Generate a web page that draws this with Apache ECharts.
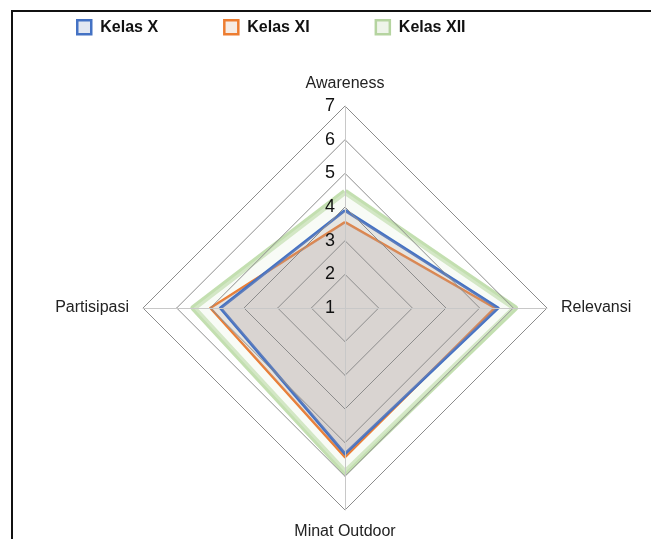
<!DOCTYPE html>
<html>
<head>
<meta charset="utf-8">
<script src="https://cdn.jsdelivr.net/npm/echarts@6/dist/echarts.min.js"></script>
<style>
  html, body { margin: 0; padding: 0; background: #fff; }
  #frame {
    position: absolute; left: 11px; top: 10px; right: -10px; bottom: -10px;
    border-top: 2px solid #111; border-left: 2px solid #111;
  }
  #chart { position: absolute; left: 0; top: 0; width: 651px; height: 539px; }
</style>
</head>
<body>
<div id="frame"></div>
<div id="chart"></div>
<script>
// indicators go counter-clockwise from the top
const indicators = ['Awareness', 'Partisipasi', 'Minat Outdoor', 'Relevansi'];
const seriesNames = ['Kelas X', 'Kelas XI', 'Kelas XII'];
const kelasX = [3.9, 4.7, 5.33, 5.55];
const kelasXI = [3.55, 5.0, 5.43, 5.45];
const kelasXII = [4.45, 5.5, 5.88, 6.05];
const axisMin = 1;
const axisMax = 7;

const chart = echarts.init(document.getElementById('chart'));

const option = {
  animation: false,
  textStyle: { fontFamily: 'Liberation Sans, Arial, sans-serif' },
  legend: {
    top: 14,
    left: 71,
    itemWidth: 14,
    itemHeight: 14,
    itemGap: 65,
    textStyle: { fontSize: 16, fontWeight: 'bold', color: '#111', padding: [0, 0, 0, 4] },
    data: [
      { name: 'Kelas X', icon: 'rect', itemStyle: { color: '#e3e8f2', borderColor: '#4472C4', borderWidth: 2.5 } },
      { name: 'Kelas XI', icon: 'rect', itemStyle: { color: '#f6ece5', borderColor: '#ED7D31', borderWidth: 2.5 } },
      { name: 'Kelas XII', icon: 'rect', itemStyle: { color: '#eef4ea', borderColor: '#b5d4a0', borderWidth: 2.5 } }
    ]
  },
  radar: {
    z: 10,
    center: [345, 308],
    radius: 202,
    startAngle: 90,
    shape: 'polygon',
    splitNumber: 6,
    nameGap: 14,
    axisName: { color: '#222', fontSize: 16 },
    axisLine: { lineStyle: { color: '#c8c8c8', width: 1 } },
    axisTick: { show: false },
    axisLabel: { show: false },
    splitLine: { lineStyle: { color: '#8c8c8c', width: 1 } },
    splitArea: { show: false },
    indicator: indicators.map((name, i) => ({
      name: name,
      min: axisMin,
      max: axisMax,
      axisLabel: i === 0
        ? { show: true, color: '#111', fontSize: 18, margin: 10, showMinLabel: true, showMaxLabel: true }
        : { show: false }
    }))
  },
  series: [
    {
      name: 'Kelas XII',
      type: 'radar',
      z: 2,
      symbol: 'none',
      lineStyle: { color: 'rgba(169,209,142,0.7)', width: 6 },
      itemStyle: { color: '#A9D18E' },
      areaStyle: { color: 'rgba(238,245,232,0.55)' },
      data: [{ name: 'Kelas XII', value: kelasXII }]
    },
    {
      name: 'Kelas XI',
      type: 'radar',
      z: 3,
      symbol: 'none',
      lineStyle: { color: '#ED7D31', width: 2.5 },
      itemStyle: { color: '#ED7D31' },
      areaStyle: { color: 'rgba(175,160,160,0.35)' },
      data: [{ name: 'Kelas XI', value: kelasXI }]
    },
    {
      name: 'Kelas X',
      type: 'radar',
      z: 4,
      symbol: 'none',
      lineStyle: { color: '#4472C4', width: 3 },
      itemStyle: { color: '#4472C4' },
      areaStyle: { color: 'rgba(175,162,162,0.35)' },
      data: [{ name: 'Kelas X', value: kelasX }]
    }
  ]
};

chart.setOption(option);
</script>
</body>
</html>
